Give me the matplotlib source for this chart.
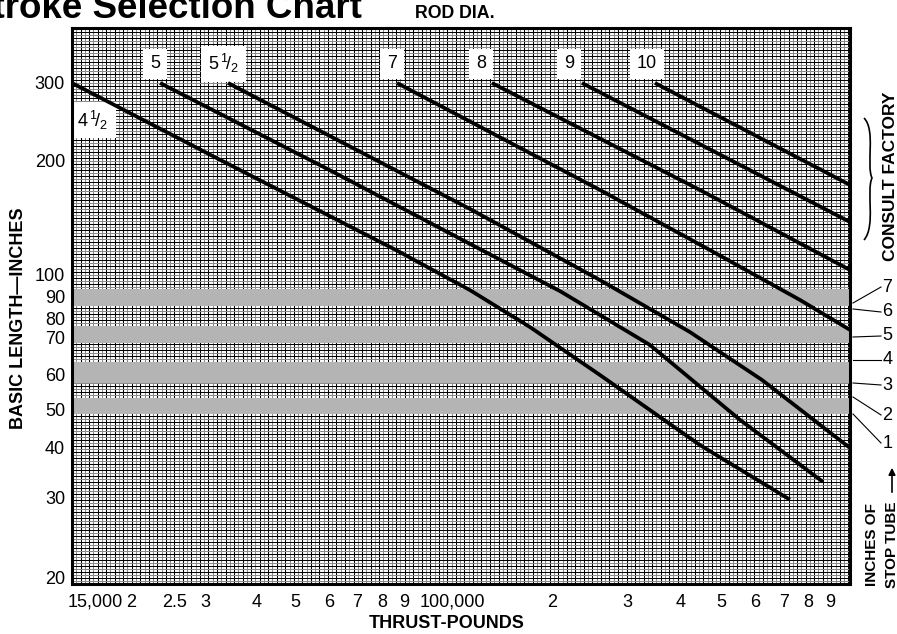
import numpy as np
import matplotlib
matplotlib.use('Agg')
import matplotlib.pyplot as plt
import matplotlib.transforms as mtransforms
from matplotlib.path import Path
from matplotlib.patches import PathPatch

plt.rcParams['font.family'] = ['Liberation Sans', 'DejaVu Sans']
plt.rcParams['mathtext.fontset'] = 'custom'
plt.rcParams['mathtext.rm'] = 'Liberation Sans'
plt.rcParams['mathtext.it'] = 'Liberation Sans:italic'
plt.rcParams['mathtext.bf'] = 'Liberation Sans:bold'

# ---- data: thrust (lb) vs basic length (in) for each rod diameter ----
rod_labels = ['4$\\,^1\\!/_2$', '5', '5$\\,^1\\!/_2$', '7', '8', '9', '10']
thrust_45 = [15000, 32450, 86700, 128600, 177700, 259300, 444700, 723200]
length_45 = [300, 204, 116, 93, 75.6, 60, 40.7, 29.6]
thrust_5 = [24130, 60390, 128600, 208900, 339600, 552100, 864000]
length_5 = [300, 189, 120.8, 92.6, 68, 47.2, 32.8]
thrust_55 = [34820, 128600, 259300, 421400, 621500, 1000000]
length_55 = [300, 149.4, 97.6, 73.0, 58.5, 40]
thrust_7 = [86700, 259300, 469300, 763200, 1000000]
length_7 = [300, 167.7, 116.4, 88.6, 74.1]
thrust_8 = [144700, 444700, 1000000]
length_8 = [300, 167.7, 103.1]
thrust_9 = [235300, 1000000]
length_9 = [300, 138]
thrust_10 = [348900, 1000000]
length_10 = [300, 172.9]

# stop tube bands (inches of basic length)
bands = [(85.8, 93.5), (68.6, 76.1), (57.5, 63.3), (48.8, 53.2)]
stop_tube = ['7', '6', '5', '4', '3', '2', '1']

x_ticks = [15000, 20000, 25000, 30000, 40000, 50000, 60000, 70000, 80000, 90000,
           100000, 200000, 300000, 400000, 500000, 600000, 700000, 800000, 900000]
x_ticklabels = ['15,000', '2', '2.5', '3', '4', '5', '6', '7', '8', '9',
                '100,000', '2', '3', '4', '5', '6', '7', '8', '9']
y_ticks = [20, 30, 40, 50, 60, 70, 80, 90, 100, 200, 300]

# printed length scale of the chart paper (pixels above bottom edge)
y_pos = [6, 87, 136, 174, 209, 246, 265, 287, 309, 423, 501]
LOGA = np.r_[0.0, np.log10(y_ticks), 4.0]
POSA = np.r_[6 - 421 * np.log10(20), y_pos, 501 + 421 * np.log10(1e4 / 300)]


def fwd(v):
    v = np.clip(np.asarray(v, dtype=float), 1e-6, None)
    return np.interp(np.log10(v), LOGA, POSA)


def inv(p):
    return 10 ** np.interp(np.asarray(p, dtype=float), POSA, LOGA)


W, H = 897, 634
fig = plt.figure(figsize=(W / 100, H / 100), dpi=100)
ax = fig.add_axes([72 / W, 50 / H, 778 / W, 556 / H])

ax.set_xscale('log')
ax.set_yscale('function', functions=(fwd, inv))
ax.set_xlim(15000, 1000000)
ax.set_ylim(inv(0), inv(556))

ax.set_xticks(x_ticks)
ax.set_xticklabels(x_ticklabels)
ax.xaxis.set_minor_formatter(matplotlib.ticker.NullFormatter())
ax.set_yticks(y_ticks)
ax.set_yticklabels([str(v) for v in y_ticks])
ax.yaxis.set_minor_formatter(matplotlib.ticker.NullFormatter())
ax.tick_params(which='both', length=0)
ax.tick_params(axis='x', pad=7, labelsize=13)
ax.tick_params(axis='y', pad=5, labelsize=13)

# graph paper grid: dark lines with lighter ones in between
gx = np.arange(np.log10(15000), 6.0, 0.01)
ax.vlines(10 ** gx[::2], 0, 1, transform=ax.get_xaxis_transform(), color='black',
          lw=0.75, snap=True, zorder=1)
ax.vlines(10 ** gx[1::2], 0, 1, transform=ax.get_xaxis_transform(), color='#8a8a8a',
          lw=0.75, snap=True, zorder=1)
gy = np.arange(0, 556, 3.0)
ax.hlines(inv(gy[::2]), 0, 1, transform=ax.get_yaxis_transform(), color='black',
          lw=0.75, snap=True, zorder=1)
ax.hlines(inv(gy[1::2]), 0, 1, transform=ax.get_yaxis_transform(), color='#8a8a8a',
          lw=0.75, snap=True, zorder=1)

# nudge the printed x labels the way the chart sets them
offsets = {0: -4, 1: 6, 2: 8, 3: 5, 4: 3, 10: -4}
for i, dx in offsets.items():
    lab = ax.get_xticklabels()[i]
    if i in (0, 10):
        lab.set_horizontalalignment('left')
    lab.set_transform(lab.get_transform() +
                      mtransforms.ScaledTranslation(dx / 100, 0, fig.dpi_scale_trans))

for lo, hi in bands:
    ax.axhspan(lo, hi, color='#b4b4b4', lw=0, zorder=2)

# rod diameter labels (white patches cut out of the grid, under the curves)
label_x = [16800, 23480, 34070, 84400, 136400, 219400, 334200]
label_y = [247.5, 333, 333, 333, 333, 333, 333]
for t, lx, ly in zip(rod_labels, label_x, label_y):
    ax.text(lx, ly, t, fontsize=13, ha='center', va='center', zorder=2.5,
            bbox=dict(facecolor='white', edgecolor='none', pad=5))

for xs, ys in [(thrust_45, length_45), (thrust_5, length_5), (thrust_55, length_55),
               (thrust_7, length_7), (thrust_8, length_8), (thrust_9, length_9),
               (thrust_10, length_10)]:
    ax.plot(xs, ys, color='black', lw=2.7, solid_capstyle='butt', zorder=3)

for s in ax.spines.values():
    s.set_linewidth(2.2)
    s.set_zorder(5)

fig.text(447 / W, 1 - 623 / H, 'THRUST-POUNDS', fontsize=13, fontweight='bold',
         ha='center', va='center')
fig.text(19 / W, 1 - 318 / H, 'BASIC LENGTH\u2014INCHES', fontsize=13, fontweight='bold',
         ha='center', va='center', rotation=90)

fig.text(362 / W, 1 - 18 / H, 'Stroke Selection Chart', fontsize=26.5, fontweight='bold',
         ha='right', va='baseline')
fig.text(455 / W, 1 - 13 / H, 'ROD DIA.', fontsize=12.8, fontweight='bold',
         ha='center', va='center')


# right side annotations
def afrac(px, py):
    return (px - 72) / 778, (584 - py) / 556


start_y = [303, 309, 337, 360, 383, 397, 414]
label_py = [287, 312, 336, 360, 385, 415, 443]
for t, sy, ly in zip(stop_tube, start_y, label_py):
    x0, y0 = afrac(853, sy)
    x1, y1 = afrac(881, ly)
    ax.plot([x0, x1], [y0, y1], color='black', lw=0.8, transform=ax.transAxes,
            clip_on=False)
    ax.text(x1 + 0.002, y1, t, transform=ax.transAxes, fontsize=13,
            ha='left', va='center')

cx, cy = afrac(890, 176)
ax.text(cx, cy, 'CONSULT FACTORY', transform=ax.transAxes, rotation=90,
        fontsize=12.5, fontweight='bold', ha='center', va='center')

pts = [afrac(*p) for p in [(864, 118), (876, 130), (866, 165), (872, 178),
                            (866, 191), (876, 226), (864, 240)]]
codes = [Path.MOVETO, Path.CURVE4, Path.CURVE4, Path.CURVE4,
         Path.CURVE4, Path.CURVE4, Path.CURVE4]
ax.add_patch(PathPatch(Path(pts, codes), fill=False, lw=1.2, transform=ax.transAxes,
                       clip_on=False))

ix, iy = afrac(872, 545)
ax.text(ix, iy, 'INCHES OF', transform=ax.transAxes, rotation=90, fontsize=11,
        fontweight='bold', ha='center', va='center')
sx, sy2 = afrac(892, 545)
ax.text(sx, sy2, 'STOP TUBE', transform=ax.transAxes, rotation=90, fontsize=11,
        fontweight='bold', ha='center', va='center')
ax.annotate('', xy=afrac(892, 465), xytext=afrac(892, 495), xycoords='axes fraction',
            arrowprops=dict(arrowstyle='-|>', lw=1.2, color='black'))

fig.savefig('out.png', dpi=100)
